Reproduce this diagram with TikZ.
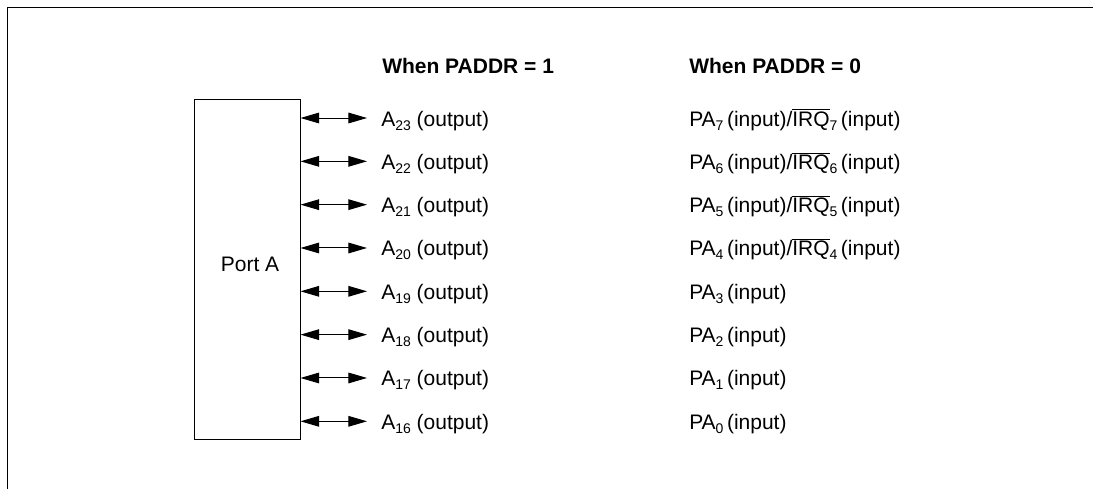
\documentclass[tikz,border=0pt]{standalone}
\usepackage{fontspec}
\setmainfont{Liberation Sans}
\usetikzlibrary{positioning, calc, arrows.meta}
\newcommand\pinsub[1]{\raisebox{-3pt}{\fontsize{10.5pt}{10.5pt}\selectfont #1}}
\newcommand\pinbar[1]{$\overline{\mbox{#1}}$}
\tikzset{
  % Port block and pins
  portbox/.style  = { draw, line width=0.75pt, minimum width=79.5pt,
                       minimum height=255pt, inner sep=0 },
  pinarrow/.style = { line width=0.75pt,
                       {Triangle[length=14pt, width=8pt]}-{Triangle[length=14pt, width=8pt]} },
  pinlabel/.style = { anchor=base west, inner sep=0, font=\fontsize{15.75pt}{19pt}\selectfont },
  colhead/.style  = { pinlabel, font=\fontsize{15.75pt}{19pt}\selectfont\bfseries },
  framerule/.style = { line width=0.75pt }
}

\begin{document}
\begin{tikzpicture}[x=0.75pt, y=-0.75pt]

  \useasboundingbox (0,0) rectangle (1093,489);
  \draw[framerule] (7,489) -- (7,7) -- (1093,7);

  \node[colhead] (head1) at (382,73) {When PADDR = 1};
  \node[colhead] (head0) at (689,73) {When PADDR = 0};

  \node[portbox] (port) at (247,269) {};
  \node[pinlabel, anchor=base] (portname) at (250,271) {Port A};

  \foreach \a/\p [count=\i] in {23/7,22/6,21/5,20/4,19/3,18/2,17/1,16/0}{
    \pgfmathsetmacro\y{118+(\i-1)*43.33}
    \coordinate (pin\a) at (port.east |- 0,\y);
    \coordinate (tip\a) at (367,\y);
    \draw[pinarrow] (pin\a) -- (tip\a);
    \node[pinlabel] (out\a) at (381,\y+8) {A\pinsub{\a} (output)};
    \node[pinlabel] (in\p) at (689,\y+8)
      {PA\pinsub{\p}\,(input)\ifnum\p>3 /\pinbar{IRQ}\pinsub{\p}\,(input)\fi};
  }

\end{tikzpicture}
\end{document}
